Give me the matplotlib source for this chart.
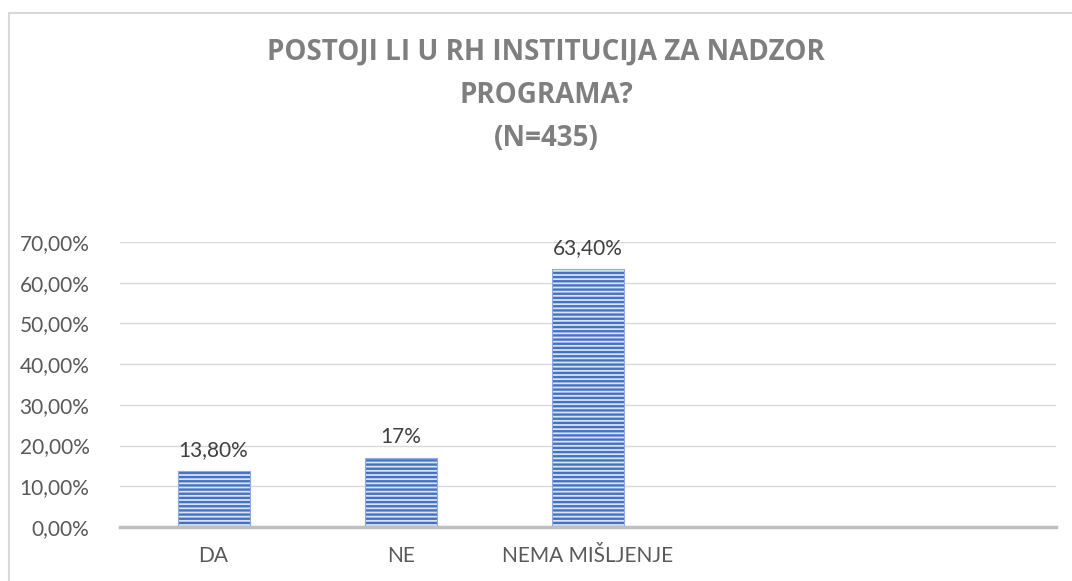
import matplotlib
matplotlib.use("Agg")
import matplotlib.pyplot as plt
from matplotlib.patches import Rectangle
from matplotlib.ticker import FuncFormatter, MultipleLocator

categories = ["DA", "NE", "NEMA MIŠLJENJE", "", ""]
values = [0.138, 0.17, 0.634, None, None]
data_labels = ["13,80%", "17%", "63,40%", "", ""]
title_text = "POSTOJI LI U RH INSTITUCIJA ZA NADZOR\nPROGRAMA?\n(N=435)"

plt.rcParams['font.family'] = ['Lato', 'DejaVu Sans']
plt.rcParams['hatch.linewidth'] = 1.7

fig = plt.figure(figsize=(10.72, 5.81), dpi=100)
fig.patches.append(Rectangle((9/1072, -0.01), 1.02, 1 - 13/581 + 0.01,
                             transform=fig.transFigure, fill=False,
                             edgecolor='#d9d9d9', linewidth=1.5))

ax = fig.add_axes([120/1072, 1 - 527/581, (1056-120)/1072, (527-242)/581])
x = list(range(len(categories)))
for i, (v, lab) in enumerate(zip(values, data_labels)):
    if v is None:
        continue
    ax.bar(i, v, width=0.385, color='#dbe4f5', edgecolor='#4472c4',
           hatch='----', linewidth=0.0, zorder=3)
    ax.bar(i, v, width=0.385, fill=False, edgecolor='#8faadc',
           linewidth=0.8, zorder=4)
    ax.text(i, v + 0.026, lab, ha='center', va='bottom', fontsize=15,
            color='#404040')

ax.set_xlim(-0.5, len(categories) - 0.5)
ax.set_ylim(0, 0.70)
ax.yaxis.set_major_locator(MultipleLocator(0.1))
ax.yaxis.set_major_formatter(FuncFormatter(lambda v, p: f"{v*100:.2f}%".replace('.', ',')))
ax.set_xticks(x)
ax.set_xticklabels(categories)
ax.tick_params(axis='both', length=0, labelsize=15, labelcolor='#595959')
ax.tick_params(axis='y', pad=22)
ax.tick_params(axis='x', pad=14)
ax.grid(axis='y', color='#d9d9d9', linewidth=1.0, zorder=0)
for s in ['top', 'right', 'left']:
    ax.spines[s].set_visible(False)
ax.spines['bottom'].set_color('#bfbfbf')
ax.spines['bottom'].set_linewidth(2.5)
ax.spines['bottom'].set_zorder(5)

fig.text(546/1072, 1 - 95/581, title_text, ha='center', va='center',
         fontsize=20, fontweight='bold', color='#7f7f7f', linespacing=1.65,
         family=['Open Sans', 'DejaVu Sans'])

fig.savefig("out.png", dpi=100)
